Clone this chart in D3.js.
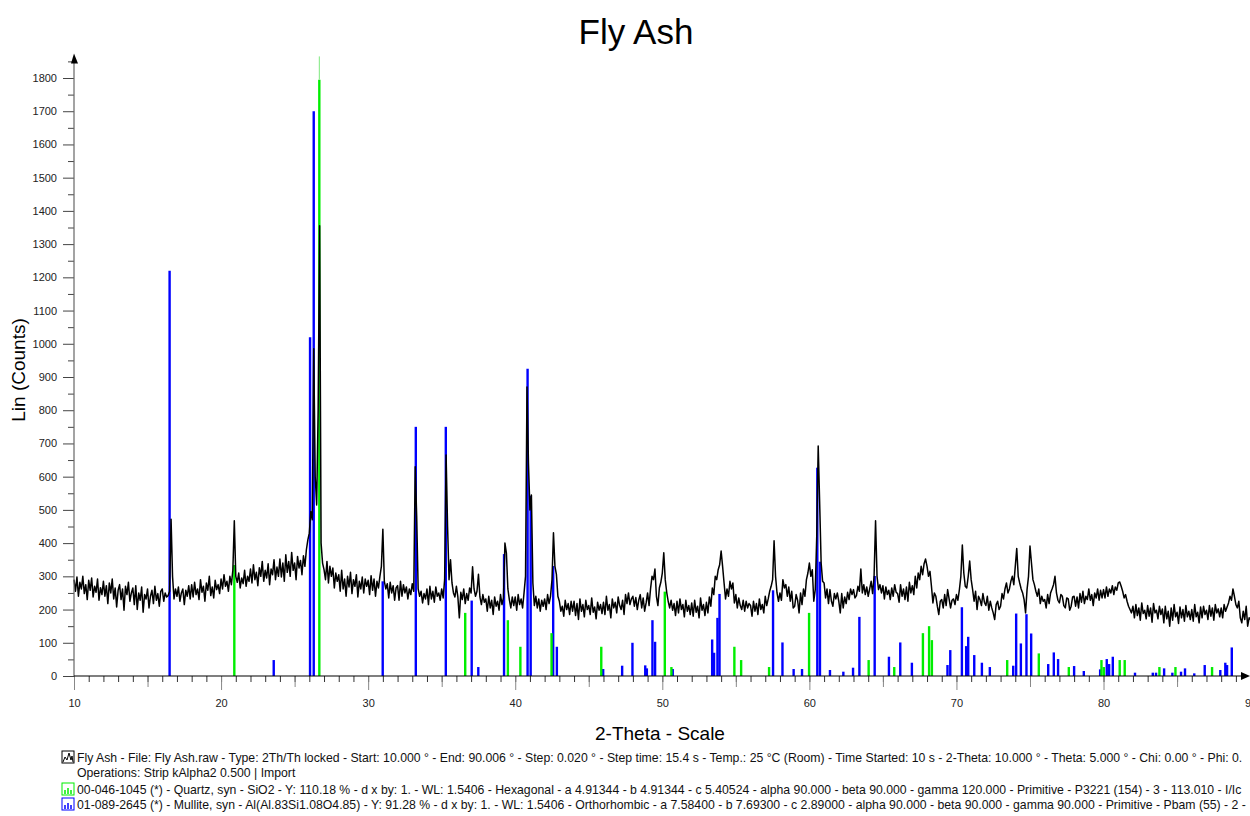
<!DOCTYPE html>
<html>
<head>
<meta charset="utf-8">
<script src="https://cdn.jsdelivr.net/npm/d3@7/dist/d3.min.js"></script>
<style>
  body { margin: 0; background: #fff; }
  svg { font-family: "Liberation Sans", Arial, sans-serif; }
</style>
</head>
<body>
<script>
// measured scan, one count every 0.1 deg from 10 to 90 (2-Theta), one row per 2 deg
const scanStart = 10;
const scanStep = 0.1;
const scanCounts = [
  290, 255, 298, 240, 282, 262, 300, 248, 275, 230, 288, 258, 295, 238, 270, 252, 292, 228, 266, 245,
  285, 240, 272, 218, 280, 250, 292, 232, 265, 208, 258, 275, 230, 262, 198, 270, 245, 282, 225, 250,
  265, 215, 272, 200, 250, 228, 268, 192, 245, 232, 262, 205, 240, 258, 218, 270, 228, 248, 210, 255,
  262, 225, 250, 238, 242, 255, 472, 300, 232, 262, 240, 268, 225, 250, 262, 215, 258, 240, 272, 232,
  275, 238, 282, 245, 262, 230, 290, 252, 270, 225, 280, 258, 300, 242, 268, 235, 288, 260, 275, 248,
  292, 262, 305, 270, 285, 255, 300, 275, 318, 467, 300, 282, 310, 265, 295, 278, 318, 270, 300, 285,
  322, 280, 335, 290, 312, 272, 326, 300, 345, 285, 318, 295, 338, 275, 322, 305, 350, 290, 328, 300,
  352, 298, 340, 285, 365, 312, 345, 300, 372, 318, 340, 290, 360, 325, 348, 305, 362, 330, 380, 410,
  430, 495, 470, 985, 600, 515, 800, 1355, 400, 340, 320, 290, 345, 280, 330, 300, 325, 265, 310, 285,
  305, 255, 318, 262, 292, 240, 300, 268, 312, 248, 290, 270, 305, 238, 285, 262, 298, 250, 292, 270,
  288, 245, 302, 258, 292, 240, 285, 265, 300, 330, 442, 285, 262, 278, 235, 282, 250, 272, 228, 265,
  272, 228, 285, 240, 275, 250, 268, 232, 262, 245, 278, 255, 630, 480, 262, 240, 255, 220, 248, 232,
  262, 215, 270, 232, 255, 222, 268, 240, 250, 228, 262, 235, 290, 665, 450, 290, 350, 280, 250, 238,
  270, 238, 175, 252, 230, 262, 218, 248, 228, 265, 250, 329, 262, 240, 255, 306, 238, 215, 245, 222,
  232, 195, 240, 205, 228, 185, 238, 210, 225, 198, 245, 215, 235, 400, 370, 262, 230, 205, 238, 212,
  238, 198, 245, 215, 232, 205, 250, 300, 870, 640, 500, 545, 280, 212, 240, 205, 232, 195, 228, 210,
  232, 200, 245, 218, 240, 290, 431, 330, 306, 240, 225, 195, 210, 180, 228, 200, 218, 185, 225, 195,
  225, 182, 218, 170, 232, 195, 215, 178, 228, 200, 212, 185, 235, 192, 208, 172, 222, 198, 215, 188,
  222, 185, 240, 198, 215, 175, 232, 205, 222, 190, 238, 212, 200, 228, 185, 245, 218, 250, 215, 232,
  240, 210, 236, 200, 228, 245, 205, 235, 195, 220, 250, 212, 262, 300, 290, 322, 240, 212, 265, 282,
  310, 371, 290, 252, 225, 205, 228, 198, 218, 182, 225, 190, 232, 200, 215, 178, 228, 195, 212, 185,
  220, 180, 228, 192, 210, 175, 235, 198, 215, 182, 222, 190, 238, 210, 265, 245, 300, 290, 320, 335,
  376, 330, 280, 232, 262, 240, 285, 262, 280, 220, 245, 205, 235, 212, 200, 228, 195, 225, 205, 218,
  212, 180, 225, 195, 218, 185, 232, 200, 215, 190, 240, 212, 232, 255, 270, 290, 407, 300, 250, 225,
  250, 228, 290, 265, 275, 240, 268, 225, 255, 205, 210, 245, 228, 190, 250, 215, 262, 240, 290, 310,
  340, 300, 320, 225, 260, 420, 692, 520, 340, 285, 280, 235, 262, 218, 260, 225, 210, 248, 232, 250,
  225, 190, 248, 205, 238, 218, 252, 230, 262, 245, 260, 235, 242, 270, 255, 322, 250, 275, 245, 268,
  240, 262, 285, 248, 300, 467, 300, 260, 275, 250, 272, 232, 268, 245, 258, 230, 265, 240, 275, 252,
  248, 222, 275, 240, 262, 230, 268, 225, 282, 250, 272, 245, 300, 265, 310, 290, 330, 305, 338, 352,
  330, 300, 315, 270, 220, 250, 240, 210, 185, 225, 230, 205, 245, 212, 260, 232, 205, 228, 232, 215,
  245, 228, 260, 300, 394, 310, 270, 265, 300, 346, 290, 260, 225, 255, 200, 240, 230, 212, 248, 222,
  212, 240, 198, 225, 205, 190, 170, 215, 225, 200, 210, 248, 232, 262, 280, 250, 262, 285, 300, 275,
  330, 384, 300, 280, 262, 250, 230, 190, 260, 300, 391, 340, 290, 275, 255, 240, 262, 218, 240, 225,
  230, 205, 245, 218, 250, 262, 275, 300, 250, 228, 220, 245, 240, 212, 205, 235, 232, 198, 210, 238,
  240, 210, 238, 205, 248, 222, 255, 218, 240, 230, 262, 228, 245, 212, 250, 235, 262, 228, 258, 235,
  260, 235, 268, 240, 262, 250, 272, 245, 268, 258, 280, 283, 270, 255, 235, 245, 225, 210, 200, 190,
  210, 175, 215, 182, 205, 168, 220, 188, 198, 172, 212, 180, 205, 162, 218, 190, 198, 172, 210, 185,
  202, 160, 210, 172, 195, 150, 205, 168, 215, 178, 192, 158, 208, 175, 200, 165, 212, 178, 195, 170,
  200, 165, 215, 178, 192, 160, 208, 175, 210, 185, 198, 170, 212, 180, 205, 168, 215, 190, 202, 178,
  205, 175, 215, 195, 208, 220, 240, 228, 262, 240, 215, 205, 225, 175, 160, 195, 170, 210, 150, 175,
  170
];

// 00-046-1045 Quartz sticks
const quartzPos = [20.9, 26.68, 36.6, 39.5, 40.35, 42.47, 45.85, 50.17, 50.62, 54.9,
  55.36, 57.26, 59.98, 64.03, 65.77, 67.72, 68.14, 68.33, 73.45, 75.6,
  77.64, 79.86, 80.02, 81.1, 81.44, 83.8, 84.89, 87.38];
const quartzInt = [334, 1795, 190, 168, 88, 129, 88, 254, 27, 88,
  48, 27, 190, 48, 27, 129, 150, 108, 48, 68,
  27, 48, 27, 48, 48, 27, 27, 27];

// 01-089-2645 Mullite sticks
const mullitePos = [16.5, 23.58, 26.05, 26.3, 30.99, 33.24, 35.28, 37.04, 37.49, 39.24,
  40.84, 41.05, 42.58, 42.83, 45.98, 47.27, 47.97, 48.84, 48.95, 49.33,
  49.51, 50.71, 53.39, 53.52, 53.75, 53.89, 57.53, 58.17, 58.93, 59.5,
  60.54, 60.72, 61.4, 62.31, 62.97, 63.4, 64.44, 65.41, 66.18, 66.97,
  69.39, 69.58, 70.37, 70.66, 70.8, 71.21, 71.73, 72.27, 73.86, 74.06,
  74.38, 74.76, 75.08, 76.24, 76.62, 76.91, 78.0, 78.66, 79.77, 80.22,
  80.38, 80.63, 82.14, 83.35, 83.57, 84.12, 84.68, 85.27, 85.54, 86.17,
  86.88, 87.94, 88.28, 88.4, 88.72];
const mulliteInt = [1220, 48, 1020, 1700, 285, 750, 750, 227, 27, 367,
  925, 542, 331, 88, 21, 31, 100, 32, 23, 168,
  103, 21, 110, 70, 175, 247, 258, 101, 21, 21,
  627, 344, 18, 13, 25, 178, 301, 58, 101, 40,
  33, 78, 207, 90, 118, 63, 40, 27, 31, 188,
  98, 186, 128, 36, 71, 51, 30, 15, 20, 51,
  36, 58, 10, 10, 10, 23, 10, 13, 23, 8,
  33, 18, 40, 33, 86];

const xMajorTicks = [10, 20, 30, 40, 50, 60, 70, 80, 90];
const yMajorTicks = [0, 100, 200, 300, 400, 500, 600, 700, 800, 900,
  1000, 1100, 1200, 1300, 1400, 1500, 1600, 1700, 1800];

const chartTitle = "Fly Ash";
const xTitle = "2-Theta - Scale";
const yTitle = "Lin (Counts)";
const legendText = [
  "Fly Ash - File: Fly Ash.raw - Type: 2Th/Th locked - Start: 10.000 ° - End: 90.006 ° - Step: 0.020 ° - Step time: 15.4 s - Temp.: 25 °C (Room) - Time Started: 10 s - 2-Theta: 10.000 ° - Theta: 5.000 ° - Chi: 0.00 ° - Phi: 0.",
  "Operations: Strip kAlpha2 0.500 | Import",
  "00-046-1045 (*) - Quartz, syn - SiO2 - Y: 110.18 % - d x by: 1. - WL: 1.5406 - Hexagonal - a 4.91344 - b 4.91344 - c 5.40524 - alpha 90.000 - beta 90.000 - gamma 120.000 - Primitive - P3221 (154) - 3 - 113.010 - I/Ic",
  "01-089-2645 (*) - Mullite, syn - Al(Al.83Si1.08O4.85) - Y: 91.28 % - d x by: 1. - WL: 1.5406 - Orthorhombic - a 7.58400 - b 7.69300 - c 2.89000 - alpha 90.000 - beta 90.000 - gamma 90.000 - Primitive - Pbam (55) - 2 -"
];
const legendIcons = ["scan", null, "#00ee00", "#0000ff"];

const width = 1250, height = 816;
const yTop = 1865; // y axis runs a bit past the last labelled tick

const svg = d3.select("body").append("svg")
  .attr("width", width)
  .attr("height", height);

const x = d3.scaleLinear().domain([10, 90]).range([74, 1250.6]);
const y = d3.scaleLinear().domain([0, 1800]).range([676, 78]);

// title
svg.append("text")
  .attr("x", 636).attr("y", 44)
  .attr("text-anchor", "middle")
  .attr("font-size", 35)
  .text(chartTitle);

// sticks (drawn under the scan)
const sticks = svg.append("g");
function drawSticks(pos, vals, color) {
  sticks.selectAll(null)
    .data(pos.map((p, i) => [p, vals[i]]))
    .join("line")
    .attr("x1", d => x(d[0])).attr("x2", d => x(d[0]))
    .attr("y1", y(0)).attr("y2", d => y(d[1]))
    .attr("stroke", color)
    .attr("stroke-width", 2.4);
}
drawSticks(mullitePos, mulliteInt, "#0000ff");
drawSticks(quartzPos, quartzInt, "#00ee00");
// the strongest quartz line runs up to the top of the axis
sticks.append("line")
  .attr("x1", x(quartzPos[1])).attr("x2", x(quartzPos[1]))
  .attr("y1", y(quartzInt[1])).attr("y2", y(yTop))
  .attr("stroke", "#7ee87e")
  .attr("stroke-width", 1);

// scan line
const scanData = scanCounts.map((c, i) => [scanStart + i * scanStep, c]);
svg.append("path")
  .datum(scanData)
  .attr("fill", "none")
  .attr("stroke", "#000")
  .attr("stroke-width", 1.5)
  .attr("stroke-linejoin", "round")
  .attr("d", d3.line().x(d => x(d[0])).y(d => y(d[1])));

// y axis
const yAxisG = svg.append("g").attr("transform", `translate(${x(10)},0)`);
yAxisG.call(d3.axisLeft(y)
  .tickValues(d3.range(50, 1851, 100))
  .tickSize(6).tickSizeOuter(0).tickFormat(""));
yAxisG.append("g").call(d3.axisLeft(y)
  .tickValues(yMajorTicks)
  .tickSize(11).tickSizeOuter(0).tickPadding(6)
  .tickFormat(d3.format("d")));
yAxisG.selectAll(".domain").remove();
yAxisG.selectAll("line").attr("stroke", "#444");
yAxisG.selectAll("text").attr("font-size", 11).attr("fill", "#222")
  .attr("font-family", '"Liberation Sans", Arial, sans-serif');
yAxisG.append("line")
  .attr("y1", y(0)).attr("y2", y(yTop) + 4)
  .attr("stroke", "#666").attr("stroke-width", 1.2);
yAxisG.append("path")
  .attr("d", `M0,${y(yTop) - 3}L-3,${y(yTop) + 7}L4,${y(yTop) + 7}Z`)
  .attr("fill", "#000");

// x axis
const xAxisG = svg.append("g").attr("transform", `translate(0,${y(0)})`);
xAxisG.call(d3.axisBottom(x)
  .tickValues(d3.range(10, 90, 1))
  .tickSize(6).tickSizeOuter(0).tickFormat(""));
xAxisG.append("g").call(d3.axisBottom(x)
  .tickValues(d3.range(15, 90, 10))
  .tickSize(11).tickSizeOuter(0).tickFormat(""));
xAxisG.append("g").call(d3.axisBottom(x)
  .tickValues(xMajorTicks)
  .tickSize(14).tickSizeOuter(0).tickPadding(9)
  .tickFormat(d3.format("d")));
xAxisG.selectAll(".domain").remove();
xAxisG.selectAll("line").attr("stroke", "#333");
xAxisG.selectAll("g g .tick line").attr("stroke", "#888");
xAxisG.selectAll("text").attr("font-size", 11).attr("fill", "#222")
  .attr("font-family", '"Liberation Sans", Arial, sans-serif');
xAxisG.append("line")
  .attr("x1", x(10)).attr("x2", width - 4)
  .attr("stroke", "#000").attr("stroke-width", 1.2);
xAxisG.append("path")
  .attr("d", `M${width},0L${width - 9},-4L${width - 9},4Z`)
  .attr("fill", "#000");

// axis titles
svg.append("text")
  .attr("x", 660).attr("y", 740)
  .attr("text-anchor", "middle")
  .attr("font-size", 19)
  .text(xTitle);
svg.append("text")
  .attr("transform", "translate(25,370) rotate(-90)")
  .attr("text-anchor", "middle")
  .attr("font-size", 19)
  .text(yTitle);

// legend
const legendY = [762, 777, 794, 809];
const legend = svg.append("g");
legendText.forEach((t, i) => {
  legend.append("text")
    .attr("x", 77).attr("y", legendY[i])
    .attr("font-size", 12.25)
    .attr("fill", "#111")
    .text(t);
  const icon = legendIcons[i];
  if (!icon) return;
  const ig = legend.append("g").attr("transform", `translate(62,${legendY[i] - 11})`);
  const col = icon === "scan" ? "#000" : icon;
  ig.append("rect").attr("width", 12).attr("height", 12)
    .attr("fill", "#fff").attr("stroke", col).attr("stroke-width", 1);
  if (icon === "scan") {
    ig.append("path").attr("d", "M1,11L3,6L5,9L7,2L9,9L10,5L11,11")
      .attr("fill", "none").attr("stroke", "#000").attr("stroke-width", 1);
  } else {
    [3, 6, 9].forEach((sx, k) => {
      ig.append("line").attr("x1", sx).attr("x2", sx)
        .attr("y1", 11).attr("y2", k === 1 ? 5 : 7)
        .attr("stroke", col).attr("stroke-width", 1.5);
    });
  }
});
</script>
</body>
</html>
